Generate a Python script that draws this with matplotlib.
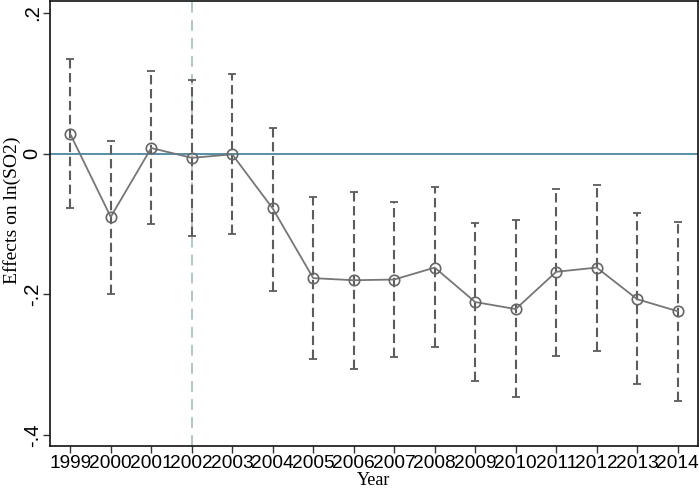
import numpy as np
import matplotlib
matplotlib.use("Agg")
import matplotlib.pyplot as plt

years = [1999, 2000, 2001, 2002, 2003, 2004, 2005, 2006,
         2007, 2008, 2009, 2010, 2011, 2012, 2013, 2014]
coef = [0.028, -0.090, 0.008, -0.006, -0.001, -0.078, -0.177, -0.180,
        -0.179, -0.162, -0.211, -0.221, -0.168, -0.162, -0.207, -0.224]
ci_hi = [0.134, 0.018, 0.117, 0.104, 0.113, 0.037, -0.061, -0.054,
         -0.069, -0.047, -0.098, -0.095, -0.050, -0.044, -0.085, -0.097]
ci_lo = [-0.078, -0.199, -0.100, -0.117, -0.114, -0.195, -0.292, -0.306,
         -0.289, -0.275, -0.323, -0.346, -0.287, -0.280, -0.328, -0.351]
yticks = [-0.4, -0.2, 0, 0.2]
ytick_labels = ["-.4", "-.2", "0", ".2"]
policy_year = 2002

coef = np.array(coef)
err = [coef - np.array(ci_lo), np.array(ci_hi) - coef]

fig = plt.figure(figsize=(6.99, 4.92), dpi=100)
ax = fig.add_axes([0.0715, 0.093, 0.927, 0.905])

ax.axhline(0, color="#4a86a0", lw=1.3, zorder=1)
ax.axvline(policy_year, color="#a8c4c0", lw=1.3, ls=(0, (6, 4)), zorder=1)

eb = ax.errorbar(years, coef, yerr=err, fmt="none", ecolor="#5c5c5c",
                 elinewidth=1.5, capsize=2.8, capthick=1.3, zorder=2)
eb[2][0].set_linestyle((0, (4.5, 2.2)))

ax.plot(years, coef, color="#767676", lw=1.3, marker="o", ms=7.5,
        mfc="none", mec="#666666", mew=1.2, zorder=3)

ax.set_xlim(1998.5, 2014.5)
ax.set_ylim(-0.416, 0.217)
ax.set_xticks(years)
ax.set_xticklabels([str(y) for y in years], family="Liberation Sans", fontsize=13.8)
ax.set_yticks(yticks)
ax.set_yticklabels(ytick_labels, family="Liberation Sans", fontsize=14.5,
                   rotation=90, va="center")
ax.tick_params(axis="both", length=5, width=1, color="#333333")
ax.tick_params(axis="x", pad=1)
ax.tick_params(axis="y", pad=1)

ax.set_xlabel("Year", family="Liberation Serif", fontsize=13)
ax.xaxis.set_label_coords(0.5, -0.057)
ax.set_ylabel("Effects on ln(SO2)", family="Liberation Serif", fontsize=14)
ax.yaxis.set_label_coords(-0.044, 0.53)

for s in ax.spines.values():
    s.set_linewidth(1.2)
    s.set_color("#111111")

fig.savefig("out.png", dpi=100)
